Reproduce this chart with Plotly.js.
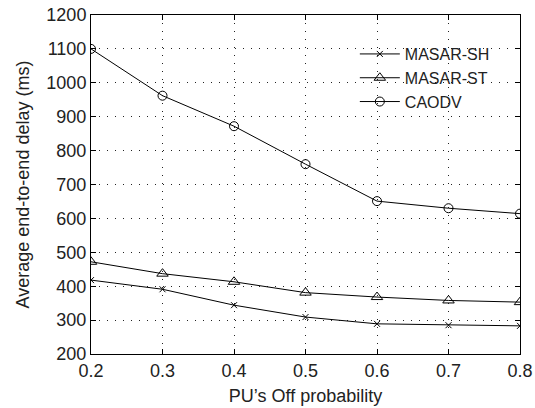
<!DOCTYPE html>
<html>
<head>
<meta charset="utf-8">
<script src="https://cdn.plot.ly/plotly-3.0.1.min.js"></script>
<style>html,body{margin:0;padding:0;background:#fff;}#chart{width:535px;height:408px;}</style>
</head>
<body>
<div id="chart"></div>
<script>
const offProbability = [0.2, 0.3, 0.4, 0.5, 0.6, 0.7, 0.8];
const masarSH = [418, 391, 344, 309, 289, 285, 283];
const masarST = [472, 437, 413, 381, 368, 358, 353];
const caodv = [1100, 962, 872, 760, 651, 630, 614];
const seriesNames = ['MASAR-SH', 'MASAR-ST', 'CAODV'];
const xTicks = [0.2, 0.3, 0.4, 0.5, 0.6, 0.7, 0.8];
const yTicks = [200, 300, 400, 500, 600, 700, 800, 900, 1000, 1100, 1200];

const font = 'Liberation Sans, Arial, Helvetica, sans-serif';
function trace(y, name, symbol, size) {
  return {
    x: offProbability, y: y, name: name, type: 'scatter', mode: 'lines+markers',
    line: {color: '#000', width: 1},
    marker: {symbol: symbol, size: size, color: '#000', line: {color: '#000', width: 1}}
  };
}
const data = [
  trace(masarSH, seriesNames[0], 'x-thin-open', 6),
  trace(masarST, seriesNames[1], 'triangle-up-open', 10),
  trace(caodv, seriesNames[2], 'circle-open', 9)
];
const axisCommon = {
  showline: true, linecolor: '#000', linewidth: 1, mirror: 'ticks',
  ticks: 'inside', ticklen: 5, tickcolor: '#000', tickwidth: 1,
  showgrid: true, gridcolor: '#222', gridwidth: 1, griddash: '1px,7px',
  zeroline: false, tickfont: {family: font, size: 18, color: '#222'}
};
const layout = {
  width: 535, height: 408,
  margin: {l: 91, r: 15, t: 15, b: 54},
  paper_bgcolor: '#fff', plot_bgcolor: '#fff',
  showlegend: true,
  legend: {x: 0.615, y: 0.935, xanchor: 'left', yanchor: 'top', bgcolor: 'rgba(0,0,0,0)', borderwidth: 0,
           itemwidth: 40, font: {family: font, size: 16, color: '#222'}, tracegroupgap: 0},
  xaxis: Object.assign({}, axisCommon, {
    range: [0.2, 0.8], tickvals: xTicks, ticktext: xTicks.map(v => v.toFixed(1)),
    title: {text: 'PU\u2019s Off probability', font: {family: font, size: 18, color: '#222'}, standoff: 9}
  }),
  yaxis: Object.assign({}, axisCommon, {
    range: [200, 1200], tickvals: yTicks,
    title: {text: 'Average end-to-end delay (ms)', font: {family: font, size: 18, color: '#222'}, standoff: 12}
  })
};
Plotly.newPlot('chart', data, layout, {displayModeBar: false, staticPlot: true});
</script>
</body>
</html>
